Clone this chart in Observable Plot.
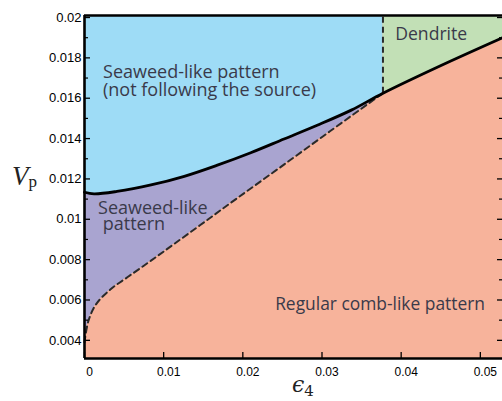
<!DOCTYPE html>
<html><head><meta charset="utf-8">
<script src="https://cdn.jsdelivr.net/npm/d3@7"></script>
<script src="https://cdn.jsdelivr.net/npm/@observablehq/plot@0.6"></script>
<style>body{margin:0;background:#fff}</style>
</head><body><div id="chart"></div>
<script>
// Solid boundary (upper curve)
const solidX = [0, 0.0012, 0.0041, 0.0084, 0.0126, 0.0167, 0.0210, 0.0252, 0.0294, 0.0337, 0.0377, 0.0449, 0.0528];
const solidY = [0.01134, 0.01126, 0.01138, 0.01170, 0.01213, 0.01267, 0.01330, 0.01398, 0.01466, 0.01541, 0.01625, 0.01760, 0.01900];
// Dashed boundary (lower curve)
const dashedX = [0, 0.0005, 0.0015, 0.0033, 0.0055, 0.0084, 0.0113, 0.0151, 0.0193, 0.0247, 0.0310, 0.0377];
const dashedY = [0.0039, 0.00497, 0.00581, 0.00653, 0.00715, 0.00795, 0.00877, 0.00985, 0.01105, 0.01257, 0.01436, 0.01625];
const dendriteX = 0.0377;
const xDomain = [0, 0.0528];
const yDomain = [0.0031, 0.0201];
const xTicks = [0, 0.01, 0.02, 0.03, 0.04, 0.05];
const xTickLabels = ["0", "0.01", "0.02", "0.03", "0.04", "0.05"];
const yTicks = [0.004, 0.006, 0.008, 0.010, 0.012, 0.014, 0.016, 0.018, 0.020];
const yTickLabels = ["0.004", "0.006", "0.008", "0.01", "0.012", "0.014", "0.016", "0.018", "0.02"];
const yMinorTicks = [0.005, 0.007, 0.009, 0.011, 0.013, 0.015, 0.017, 0.019];
const regionLabels = ["Seaweed-like pattern\n(not following the source)", "Dendrite", "Seaweed-like\n\u00a0pattern", "Regular comb-like pattern"];
const labelX = [0.00234, 0.03925, 0.00171, 0.02408];
const labelY = [0.01684, 0.01916, 0.01013, 0.00578];
const labelLineHeights = [0.97, 1, 0.9, 1];
const labelSizes = [18, 17.6, 18, 17.4];

const solid = solidX.map((x, i) => ({x, y: solidY[i]}));
const dashed = dashedX.map((x, i) => ({x, y: dashedY[i]}));
const yAtDendrite = solidY[solidX.indexOf(dendriteX)];

const W = 502, H = 401, mL = 84, mR = 0, mT = 15, mB = 43;
const pw = W - mL - mR, ph = H - mT - mB;
const textColor = "#3a3a4a";

const labelMarks = regionLabels.map((t, i) =>
  Plot.text([t], {x: labelX[i], y: labelY[i], text: d => d, textAnchor: "start", lineAnchor: "middle",
    lineHeight: labelLineHeights[i], fontFamily: "'Open Sans', sans-serif", fontSize: labelSizes[i], fill: textColor}));

const chart = Plot.plot({
  width: W, height: H,
  marginLeft: mL, marginRight: mR, marginTop: mT, marginBottom: mB,
  style: {fontFamily: "'Liberation Sans', Arial, sans-serif", background: "white", overflow: "visible"},
  x: {domain: xDomain, axis: null},
  y: {domain: yDomain, axis: null},
  marks: [
    Plot.frame({fill: "#f7b39b", stroke: null}),
    Plot.areaY(dashed, {x: "x", y1: "y", y2: yDomain[1], fill: "#a9a4d0", curve: "catmull-rom"}),
    Plot.areaY(solid.filter(d => d.x <= dendriteX), {x: "x", y1: "y", y2: yDomain[1], fill: "#9edcf6", curve: "catmull-rom"}),
    Plot.areaY(solid.filter(d => d.x >= dendriteX), {x: "x", y1: "y", y2: yDomain[1], fill: "#c2e0b6", curve: "catmull-rom"}),
    Plot.line(dashed, {x: "x", y: "y", curve: "catmull-rom", stroke: "#2a2a2a", strokeWidth: 2, strokeDasharray: "6,4"}),
    Plot.ruleX([dendriteX], {y1: yAtDendrite, y2: yDomain[1], stroke: "#2a2a2a", strokeWidth: 2, strokeDasharray: "6,4"}),
    Plot.line(solid, {x: "x", y: "y", curve: "catmull-rom", stroke: "black", strokeWidth: 2.8}),
    // ticks (inward)
    Plot.tickY(yTicks, {y: d => d, insetRight: pw - 6, stroke: "black", strokeWidth: 1.3}),
    Plot.tickY(yMinorTicks, {y: d => d, insetRight: pw - 4, stroke: "black", strokeWidth: 1.2}),
    Plot.tickY(yTicks, {y: d => d, insetLeft: pw - 5, stroke: "black", strokeWidth: 1.3}),
    Plot.tickY(yMinorTicks, {y: d => d, insetLeft: pw - 3, stroke: "black", strokeWidth: 1.2}),
    Plot.tickX(xTicks, {x: d => d, insetTop: ph - 6, stroke: "black", strokeWidth: 1.3}),
    // frame lines
    Plot.ruleX([xDomain[0]], {stroke: "black", strokeWidth: 2.6}),
    Plot.ruleY([yDomain[0], yDomain[1]], {stroke: "black", strokeWidth: 2.6}),
    // tick labels
    Plot.axisY(yTicks, {label: null, tickSize: 0, tickPadding: 3, fontSize: 13, tickFormat: d => yTickLabels[yTicks.indexOf(d)]}),
    Plot.axisX(xTicks, {label: null, tickSize: 0, tickPadding: 9, dx: 5, fontSize: 12, tickFormat: d => xTickLabels[xTicks.indexOf(d)]}),
    ...labelMarks
  ]
});

const svg = d3.select(chart);
// V_p label
const vp = svg.append("text").attr("x", 12).attr("y", 185).attr("text-anchor", "start")
  .attr("font-family", "'Liberation Serif', 'DejaVu Serif', serif").attr("fill", "#222");
vp.append("tspan").attr("font-style", "italic").attr("font-size", 27).text("V");
vp.append("tspan").attr("font-size", 17).attr("dy", 2).text("p");
// epsilon_4 label
const ep = svg.append("text").attr("x", 292).attr("y", 392).attr("text-anchor", "start")
  .attr("font-family", "'DejaVu Serif', 'Liberation Serif', serif").attr("fill", "#222");
ep.append("tspan").attr("font-style", "italic").attr("font-size", 22).text("\u03F5");
ep.append("tspan").attr("font-size", 15).attr("dy", 4).text("4");

document.getElementById("chart").appendChild(chart);
</script>
</body></html>
